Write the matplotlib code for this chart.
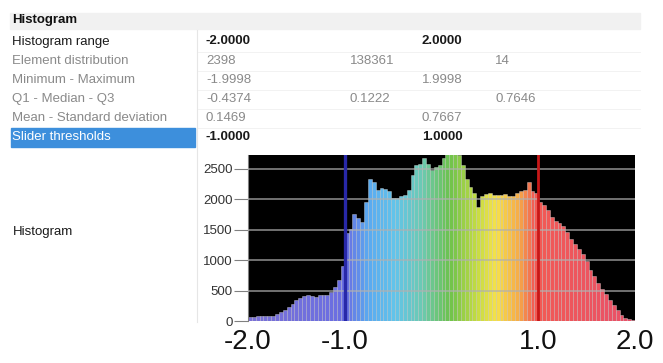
import numpy as np
import matplotlib
matplotlib.use("Agg")
import matplotlib.pyplot as plt
from matplotlib.colors import LinearSegmentedColormap

plt.rcParams['font.family'] = ['Liberation Sans', 'DejaVu Sans']

# table contents
table_title = "Histogram"
row_labels = ["Histogram range", "Element distribution", "Minimum - Maximum",
              "Q1 - Median - Q3", "Mean - Standard deviation", "Slider thresholds"]
row_values = [["-2.0000", "", "2.0000", ""],
              ["2398", "138361", "", "14"],
              ["-1.9998", "", "1.9998", ""],
              ["-0.4374", "0.1222", "", "0.7646"],
              ["0.1469", "", "0.7667", ""],
              ["-1.0000", "", "1.0000", ""]]

# histogram: 100 bins over the histogram range
hist_range = (-2.0, 2.0)
counts = [70, 70, 75, 75, 80, 75, 90, 110, 140, 180,
          230, 280, 340, 380, 410, 420, 410, 400, 420, 430,
          430, 470, 560, 680, 900, 1450, 1520, 1760, 1700, 1630,
          1950, 2330, 2290, 2160, 2180, 2170, 2130, 2030, 2030, 2050,
          2070, 2150, 2400, 2560, 2580, 2680, 2580, 2480, 2540, 2560,
          2680, 2750, 2750, 2750, 2730, 2560, 2340, 2210, 2110, 1880,
          2050, 2090, 2110, 2070, 2080, 2080, 2090, 2060, 2060, 2110,
          2130, 2160, 2290, 2130, 2100, 1960, 1900, 1820, 1710, 1650,
          1610, 1570, 1460, 1350, 1270, 1190, 1100, 980, 840, 740,
          630, 520, 440, 350, 270, 180, 100, 55, 30, 15]
slider_low = -1.0
slider_high = 1.0
y_ticks = [0, 500, 1000, 1500, 2000, 2500]
x_ticks = [-2.0, -1.0, 1.0, 2.0]
x_tick_labels = ["-2.0", "-1.0", "1.0", "2.0"]

W, H = 663, 363
fig = plt.figure(figsize=(W / 100, H / 100), dpi=100)


def fx(px):
    return px / W


def fy(py):
    return 1 - py / H


# header band and highlight
fig.patches.append(plt.Rectangle((fx(10), fy(29)), fx(630), 16 / H, transform=fig.transFigure,
                                 color="#f1f1f1", zorder=0))
fig.patches.append(plt.Rectangle((fx(11), fy(147)), fx(184), 19 / H, transform=fig.transFigure,
                                 color="#3d8fdc", zorder=0))
fig.lines.append(plt.Line2D([fx(197), fx(197)], [fy(30), fy(322)], transform=fig.transFigure,
                            color="#e6e6e6", lw=0.8))

fig.text(fx(12), fy(20), table_title, fontsize=9.5, fontweight="bold", va="center", color="#111111")

row_y = [41.5, 61, 80, 99, 118, 137]
col_x = [206, 350, 422, 495]
for i, (lab, vals) in enumerate(zip(row_labels, row_values)):
    y = row_y[i]
    if i == 0:
        c_lab, c_val = "#1a1a1a", "#1a1a1a"
    elif i == len(row_labels) - 1:
        c_lab, c_val = "white", "#1a1a1a"
    else:
        c_lab, c_val = "#8a8a8a", "#8a8a8a"
    fig.text(fx(12), fy(y), lab, fontsize=9.5, va="center", color=c_lab)
    for v, x in zip(vals, col_x):
        if v:
            fig.text(fx(x), fy(y), v, fontsize=9.5, va="center", color=c_val,
                     fontweight="bold" if c_val == "#1a1a1a" else "normal")
    if 0 < i:
        fig.lines.append(plt.Line2D([fx(198), fx(640)], [fy(y - 9.5), fy(y - 9.5)],
                                    transform=fig.transFigure, color="#f0f0f0", lw=0.6))

fig.text(fx(13), fy(232), "Histogram", fontsize=9.5, va="center", color="#1a1a1a")

# histogram plot
ax = fig.add_axes([fx(248), fy(321), fx(387), 166 / H])
ax.set_facecolor("black")

spectrum = LinearSegmentedColormap.from_list("spectrum", [
    (0.00, "#7a70d6"), (0.25, "#6a6ee2"), (0.31, "#5aaaf0"), (0.38, "#62c4ea"),
    (0.45, "#6ccab0"), (0.52, "#6cc24c"), (0.59, "#c4dc42"), (0.64, "#f6e24a"),
    (0.70, "#f6aa48"), (0.74, "#f25a54"), (1.00, "#e8506a")])

n = len(counts)
edges = np.linspace(hist_range[0], hist_range[1], n + 1)
centers = (edges[:-1] + edges[1:]) / 2
width = edges[1] - edges[0]
colors = spectrum((centers - hist_range[0]) / (hist_range[1] - hist_range[0]))
ax.bar(centers, counts, width=width, color=colors, edgecolor=(1, 1, 1, 0.45),
       linewidth=0.5, zorder=2)

for t in y_ticks[1:]:
    ax.axhline(t, color="#b0b0b0", lw=1.2, alpha=0.75, zorder=3)

ax.axvline(slider_low, color="#2828a8", lw=2.4, zorder=4)
ax.axvline(slider_high, color="#c81818", lw=2.0, zorder=4)

ax.set_xlim(*hist_range)
ax.set_ylim(0, 2730)
for s in ["top", "right", "bottom"]:
    ax.spines[s].set_visible(False)
ax.spines["left"].set_color("#808080")
ax.spines["left"].set_linewidth(0.8)

ax.set_yticks(y_ticks)
ax.set_yticklabels([str(t) for t in y_ticks], fontsize=9.5, color="#333333")
ax.tick_params(axis="y", length=10, width=0.8, color="#808080", pad=1)
ax.set_xticks(x_ticks)
ax.set_xticklabels(x_tick_labels, fontsize=20, color="#111111")
ax.tick_params(axis="x", length=0, pad=6)

fig.savefig("out.png", dpi=100)
